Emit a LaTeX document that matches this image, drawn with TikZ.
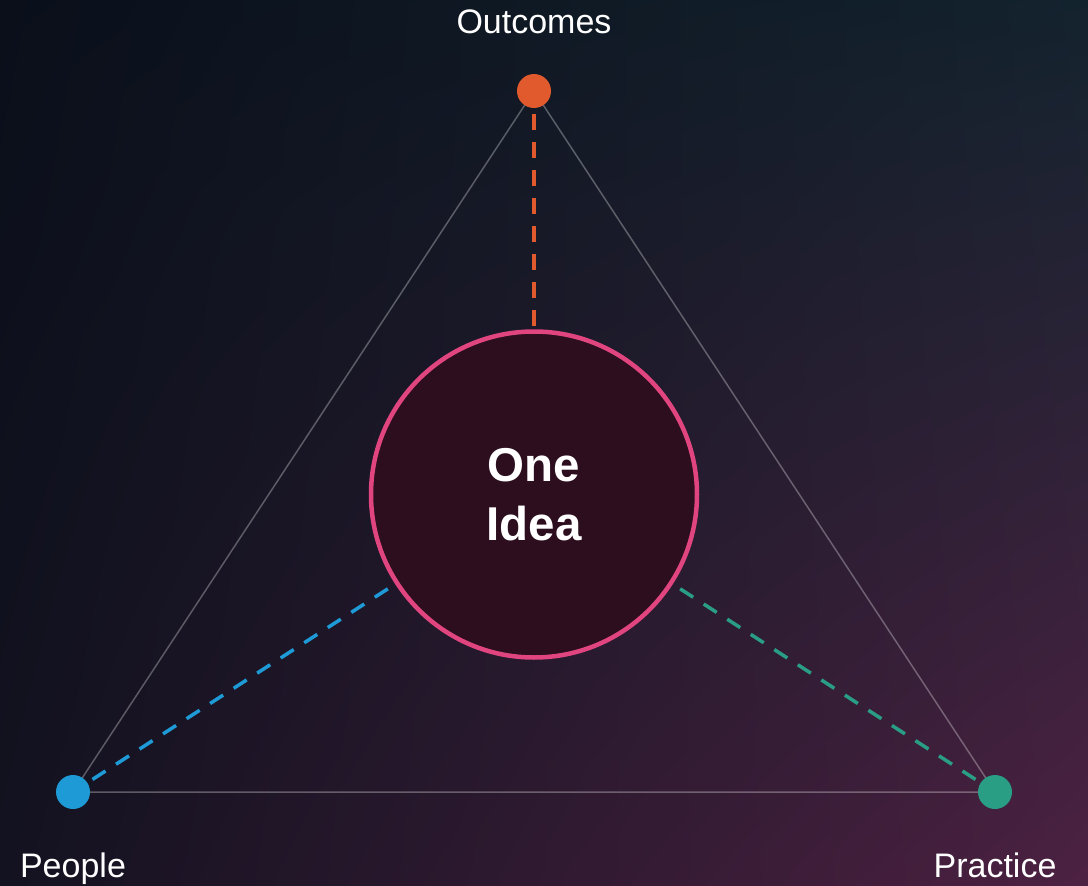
\documentclass[tikz,border=0pt]{standalone}
\usepackage{fontspec}
\setmainfont{Liberation Sans}
\usetikzlibrary{shadings}
\begin{document}
\begin{tikzpicture}[x=1pt,y=-1pt,
  dot/.style={circle,inner sep=0pt,minimum size=34pt,draw=none},
  lbl/.style={text=white,anchor=base,font=\fontsize{34}{40}\selectfont},
  tri/.style={draw=white,draw opacity=0.3,line width=1.5pt},
  link/.style={line width=3.5pt,dash pattern=on 15.5pt off 12.5pt,shorten <=6pt},
  idea/.style={circle,inner sep=0pt,minimum size=326pt,line width=4.5pt,
    draw=ideapink,fill=ideafill,text=white,align=center,
    font=\bfseries\fontsize{47.5}{59}\selectfont}]
\definecolor{bgul}{HTML}{0A0F1A}
\definecolor{bgur}{HTML}{13232E}
\definecolor{bgll}{HTML}{131220}
\definecolor{bglr}{HTML}{4D2142}
\definecolor{ideapink}{HTML}{E0457F}
\definecolor{ideafill}{HTML}{2C0E1E}
\definecolor{orangedot}{HTML}{E05A2E}
\definecolor{bluedot}{HTML}{1E9BD7}
\definecolor{tealdot}{HTML}{2A9D85}
\useasboundingbox (0,0) rectangle (1088,886);
\shade[upper left=bgul,upper right=bgur,lower left=bgll,lower right=bglr] (0,0) rectangle (1088,886);
% vertices (coordinates first, triangle under the dots)
\coordinate (po) at (534,91);
\coordinate (pp) at (73,792);
\coordinate (pr) at (995,792);
\draw[tri] (po) -- (pp) -- (pr) -- cycle;
\node[dot,fill=orangedot] (out) at (po) {};
\node[dot,fill=bluedot] (peo) at (pp) {};
\node[dot,fill=tealdot] (pra) at (pr) {};
% dashed links
\coordinate (c) at (534,494.5);
\draw[link,draw=orangedot] (out) -- (c);
\draw[link,draw=bluedot] (peo) -- (c);
\draw[link,draw=tealdot] (pra) -- (c);
% centre
\node[idea] (one) at (c) {One\\Idea};
% labels
\node[lbl] (lo) at (534,33) {Outcomes};
\node[lbl] (lp) at (73,877) {People};
\node[lbl] (lr) at (995,877) {Practice};
\end{tikzpicture}
\end{document}
